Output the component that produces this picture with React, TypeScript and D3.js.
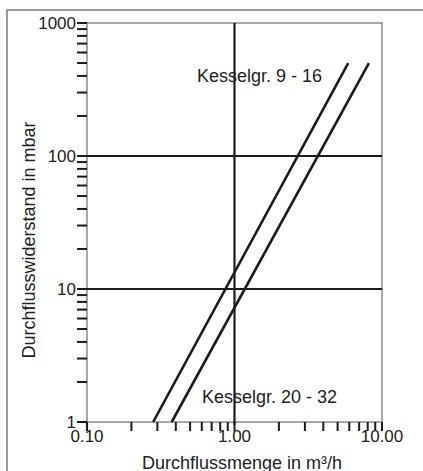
import React from "react";
import * as d3 from "d3";

const seriesNames = ["Kesselgr. 9 - 16", "Kesselgr. 20 - 32"];
const flow916 = [0.281, 5.9];
const dp916 = [1, 500];
const flow2032 = [0.375, 8.15];
const dp2032 = [1, 500];
const xTickValues = [0.1, 1, 10];
const xTickLabels = ["0.10", "1.00", "10.00"];
const yTickValues = [1, 10, 100, 1000];
const yTickLabels = ["1", "10", "100", "1000"];
const xGrid = [1];
const yGrid = [10, 100];
const xTitle = "Durchflussmenge in m³/h";
const yTitle = "Durchflusswiderstand in mbar";

const W = 423;
const H = 471;
const L = 87, R = 382, T = 23, B = 422;
const FONT = "'Liberation Sans', Arial, Helvetica, sans-serif";

export default function App() {
  const x = d3.scaleLog().domain([0.1, 10]).range([L, R]);
  const y = d3.scaleLog().domain([1, 1000]).range([B, T]);
  const line = d3
    .line<[number, number]>()
    .x((d) => x(d[0]))
    .y((d) => y(d[1]));
  const s1: [number, number][] = flow916.map((f, i) => [f, dp916[i]]);
  const s2: [number, number][] = flow2032.map((f, i) => [f, dp2032[i]]);
  const xt = x.ticks();
  const yt = y.ticks();
  const ink = "#1c1c1c";
  const grey = "#8c8c8c";
  return (
    <svg
      width={W}
      height={H}
      style={{ position: "absolute", left: 0, top: 0, background: "#fff" }}
      fontFamily={FONT}
    >
      <rect x={7} y={10} width={440} height={500} fill="#fff" stroke="#6e6e6e" strokeWidth={1.4} />
      {/* plot frame */}
      <rect x={L} y={T} width={R - L} height={B - T} fill="none" stroke={grey} strokeWidth={1.5} />
      {/* grid */}
      {yGrid.map((v) => (
        <line key={"yg" + v} x1={L - 10} x2={R} y1={y(v)} y2={y(v)} stroke={ink} strokeWidth={2.2} />
      ))}
      {xGrid.map((v) => (
        <line key={"xg" + v} x1={x(v)} x2={x(v)} y1={T} y2={B + 3} stroke={ink} strokeWidth={2.2} />
      ))}
      {/* y ticks */}
      {yt.map((v, i) => (
        <line key={"yt" + i} x1={L - 10} x2={L} y1={y(v)} y2={y(v)} stroke={ink} strokeWidth={2} />
      ))}
      {/* x ticks */}
      {xt.map((v, i) => (
        <line key={"xt" + i} x1={x(v)} x2={x(v)} y1={B} y2={B + 9} stroke={ink} strokeWidth={2} />
      ))}
      {/* y tick labels */}
      {yTickValues.map((v, i) => (
        <text key={"yl" + i} x={76} y={y(v) + 5.5} textAnchor="end" fontSize={17} fill="#222">
          {yTickLabels[i]}
        </text>
      ))}
      {/* x tick labels */}
      {xTickValues.map((v, i) => (
        <text key={"xl" + i} x={x(v)} y={442} textAnchor="middle" fontSize={17} fill="#222">
          {xTickLabels[i]}
        </text>
      ))}
      {/* series */}
      <path d={line(s1) || ""} fill="none" stroke={ink} strokeWidth={2.6} />
      <path d={line(s2) || ""} fill="none" stroke={ink} strokeWidth={2.6} />
      <text x={197} y={81.5} fontSize={18} fill="#222">
        {seriesNames[0]}
      </text>
      <text x={202} y={403} fontSize={18} fill="#222">
        {seriesNames[1]}
      </text>
      {/* titles */}
      <text x={242} y={469} textAnchor="middle" fontSize={18} fill="#222">
        {xTitle}
      </text>
      <text
        transform={`translate(34.5,240) rotate(-90)`}
        textAnchor="middle"
        fontSize={18}
        fill="#222"
      >
        {yTitle}
      </text>
    </svg>
  );
}
